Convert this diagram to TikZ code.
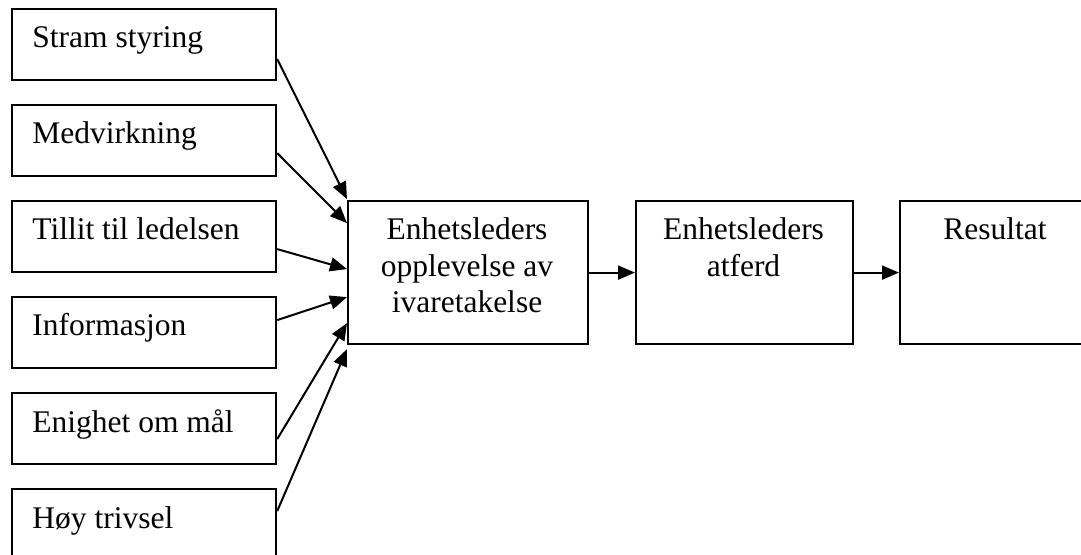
\documentclass[tikz,border=0pt]{standalone}
\usepackage{fontspec}
\setmainfont{Liberation Serif}
\usetikzlibrary{arrows.meta,calc}
\begin{document}
\begin{tikzpicture}[x=0.5pt,y=-0.5pt,
  box/.style={draw, line width=1.1pt, inner sep=0pt, anchor=north west},
  lbox/.style={box, minimum width=132pt, minimum height=35.5pt},
  bigbox/.style={box, minimum height=71.5pt},
  txt/.style={font=\fontsize{15.75pt}{18.25pt}\selectfont, inner sep=0pt},
  arr/.style={-{Triangle[length=8.5pt,width=7pt]}, line width=1pt}]
\useasboundingbox (0,0) rectangle (1081,555);
% left boxes
\node[lbox] (s1) at (11,8) {};
\node[lbox] (s2) at (11,104) {};
\node[lbox] (s3) at (11,200) {};
\node[lbox] (s4) at (11,296) {};
\node[lbox] (s5) at (11,392) {};
\node[lbox] (s6) at (11,488) {};
\node[txt, anchor=base west] (t1) at (32,48) {Stram styring};
\node[txt, anchor=base west] (t2) at (32,144) {Medvirkning};
\node[txt, anchor=base west] (t3) at (32,240) {Tillit til ledelsen};
\node[txt, anchor=base west] (t4) at (32,336) {Informasjon};
\node[txt, anchor=base west] (t5) at (32,432) {Enighet om mål};
\node[txt, anchor=base west] (t6) at (32,528) {Høy trivsel};
% main boxes
\node[bigbox, minimum width=120pt] (c) at (347,200) {};
\node[bigbox, minimum width=108.5pt] (a) at (635,200) {};
\node[bigbox, minimum width=96pt] (r) at (899,200) {};
\node[txt, anchor=base] (ct) at (467,240) {\setlength{\tabcolsep}{0pt}\begin{tabular}[t]{c}Enhetsleders\\opplevelse av\\ivaretakelse\end{tabular}};
\node[txt, anchor=base] (at) at (743.5,240) {\setlength{\tabcolsep}{0pt}\begin{tabular}[t]{c}Enhetsleders\\atferd\end{tabular}};
\node[txt, anchor=base] (rt) at (995,240) {Resultat};
% arrows into centre
\draw[arr] ($(s1.east)+(0,14.5)$) -- ($(c.west)+(0,-73.5)$);
\draw[arr] ($(s2.east)+(0,12.5)$) -- ($(c.west)+(0,-49.5)$);
\draw[arr] ($(s3.east)+(0,12.5)$) -- ($(c.west)+(0,-3.5)$);
\draw[arr] ($(s4.east)+(0,-12.5)$) -- ($(c.west)+(0,24.5)$);
\draw[arr] ($(s5.east)+(0,10.5)$) -- ($(c.west)+(0,50.5)$);
\draw[arr] ($(s6.east)+(0,-13.5)$) -- ($(c.west)+(0,76.5)$);
% chain
\draw[arr] (c.east) -- (a.west);
\draw[arr] (a.east) -- (r.west);
\end{tikzpicture}
\end{document}
